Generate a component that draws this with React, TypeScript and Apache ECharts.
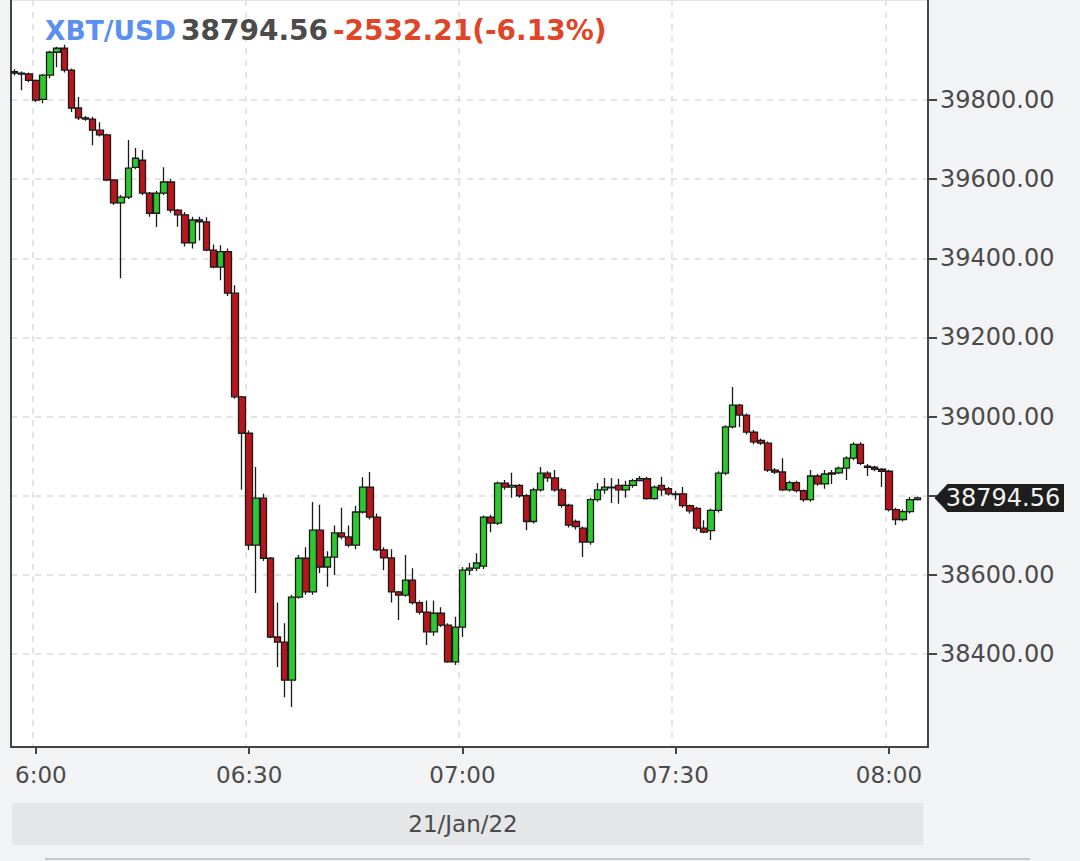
import React, { useEffect, useRef } from "react";
import * as echarts from "echarts";

const FONT = "DejaVu Sans";

// Minute candles, first one at 05:57 (index 0) ... last at 08:04, one empty slot at 08:05
const startMinute = 5 * 60 + 57;
const slotCount = 129;

// [open, close, low, high]
const ohlc: number[][] = [
  [39872, 39868, 39862, 39878],
  [39868, 39866, 39825, 39872],
  [39866, 39850, 39845, 39870],
  [39850, 39800, 39795, 39852],
  [39802, 39863, 39792, 39866],
  [39863, 39921, 39855, 39925],
  [39921, 39931, 39883, 39935],
  [39931, 39876, 39870, 39940],
  [39876, 39780, 39770, 39880],
  [39780, 39755, 39750, 39808],
  [39755, 39752, 39748, 39760],
  [39752, 39724, 39686, 39758],
  [39724, 39712, 39708, 39744],
  [39712, 39598, 39595, 39715],
  [39598, 39540, 39535, 39600],
  [39540, 39555, 39350, 39560],
  [39555, 39628, 39550, 39699],
  [39630, 39653, 39625, 39679],
  [39648, 39565, 39560, 39674],
  [39565, 39514, 39505, 39568],
  [39514, 39565, 39479, 39570],
  [39565, 39593, 39560, 39630],
  [39593, 39522, 39515, 39600],
  [39522, 39510, 39480, 39525],
  [39510, 39439, 39430, 39517],
  [39439, 39497, 39425, 39505],
  [39497, 39492, 39445, 39505],
  [39492, 39421, 39418, 39504],
  [39421, 39378, 39375, 39435],
  [39378, 39417, 39345, 39433],
  [39417, 39312, 39305, 39425],
  [39312, 39050, 39045, 39332],
  [39050, 38958, 38815, 39052],
  [38958, 38675, 38663, 38965],
  [38675, 38794, 38554, 38873],
  [38794, 38642, 38635, 38805],
  [38642, 38443, 38440, 38645],
  [38443, 38430, 38367, 38530],
  [38430, 38334, 38291, 38478],
  [38334, 38544, 38266, 38550],
  [38544, 38642, 38540, 38650],
  [38642, 38557, 38550, 38670],
  [38557, 38713, 38550, 38784],
  [38713, 38620, 38605, 38777],
  [38620, 38645, 38570, 38660],
  [38645, 38706, 38600, 38725],
  [38706, 38696, 38690, 38770],
  [38696, 38675, 38670, 38725],
  [38675, 38759, 38665, 38775],
  [38759, 38822, 38755, 38847],
  [38822, 38746, 38740, 38860],
  [38746, 38663, 38660, 38755],
  [38663, 38643, 38612, 38670],
  [38643, 38557, 38530, 38665],
  [38557, 38549, 38486, 38560],
  [38549, 38587, 38545, 38650],
  [38587, 38530, 38525, 38617],
  [38530, 38506, 38500, 38535],
  [38506, 38456, 38423, 38535],
  [38456, 38503, 38446, 38535],
  [38503, 38473, 38468, 38518],
  [38473, 38380, 38378, 38478],
  [38380, 38468, 38372, 38494],
  [38468, 38612, 38443, 38620],
  [38612, 38617, 38600, 38630],
  [38617, 38630, 38610, 38655],
  [38622, 38746, 38615, 38750],
  [38746, 38731, 38708, 38752],
  [38731, 38832, 38726, 38836],
  [38832, 38822, 38815, 38840],
  [38822, 38826, 38795, 38858],
  [38826, 38800, 38795, 38830],
  [38800, 38735, 38713, 38805],
  [38735, 38815, 38730, 38820],
  [38815, 38857, 38810, 38873],
  [38857, 38845, 38835, 38862],
  [38845, 38815, 38810, 38865],
  [38815, 38776, 38770, 38820],
  [38776, 38726, 38720, 38780],
  [38735, 38722, 38715, 38740],
  [38718, 38683, 38645, 38722],
  [38683, 38790, 38676, 38795],
  [38790, 38815, 38785, 38832],
  [38815, 38822, 38805, 38845],
  [38822, 38820, 38782, 38845],
  [38826, 38815, 38780, 38843],
  [38815, 38826, 38795, 38838],
  [38826, 38838, 38820, 38843],
  [38838, 38843, 38836, 38850],
  [38843, 38793, 38790, 38848],
  [38793, 38822, 38790, 38826],
  [38826, 38815, 38800, 38848],
  [38818, 38805, 38800, 38822],
  [38805, 38803, 38790, 38812],
  [38805, 38775, 38770, 38822],
  [38775, 38762, 38755, 38778],
  [38768, 38718, 38712, 38772],
  [38718, 38708, 38705, 38738],
  [38712, 38763, 38688, 38768],
  [38763, 38857, 38758, 38862],
  [38857, 38974, 38852, 38978],
  [38974, 39029, 38970, 39075],
  [39029, 39004, 38974, 39032],
  [39004, 38961, 38955, 39008],
  [38961, 38936, 38930, 38966],
  [38940, 38933, 38928, 38945],
  [38933, 38865, 38860, 38937],
  [38865, 38860, 38855, 38870],
  [38860, 38815, 38812, 38895],
  [38815, 38833, 38810, 38838],
  [38833, 38813, 38808, 38838],
  [38813, 38790, 38785, 38816],
  [38790, 38850, 38785, 38865],
  [38850, 38830, 38825, 38855],
  [38830, 38855, 38818, 38865],
  [38855, 38858, 38830, 38865],
  [38858, 38870, 38855, 38874],
  [38870, 38895, 38840, 38900],
  [38895, 38930, 38890, 38935],
  [38930, 38882, 38878, 38935],
  [38875, 38872, 38850, 38880],
  [38872, 38867, 38862, 38876],
  [38867, 38862, 38822, 38870],
  [38862, 38765, 38760, 38866],
  [38765, 38740, 38726, 38770],
  [38740, 38760, 38735, 38765],
  [38760, 38790, 38755, 38797],
  [38790, 38794.56, 38788, 38798],
];

const priceTicks = [38400, 38600, 38800, 39000, 39200, 39400, 39600, 39800];
// 38800 label is covered by the last-price tag in the original
const priceLabels = [38400, 38600, 39000, 39200, 39400, 39600, 39800];
const yMin = 38165;
const yMax = 40053;

const symbol = "XBT/USD";
const lastPrice = "38794.56";
const changeText = "-2532.21(-6.13%)";
const dateText = "21/Jan/22";

const pad = (n: number) => (n < 10 ? "0" + n : "" + n);
const categories: string[] = [];
for (let k = 0; k < slotCount; k++) {
  const m = startMinute + k;
  categories.push(pad(Math.floor(m / 60)) + ":" + pad(m % 60));
}

const isMajor = (_i: number, v: string) => v.endsWith(":00") || v.endsWith(":30");

export default function App() {
  const ref = useRef<HTMLDivElement>(null);

  useEffect(() => {
    document.body.style.margin = "0";
    document.body.style.background = "#f2f3f5";
    const chart = echarts.init(ref.current!, null, { renderer: "svg" });
    const option: any = {
      animation: false,
      backgroundColor: "#f2f3f5",
      title: {
        left: 40,
        top: 11,
        text: `{a|${symbol}} {b|${lastPrice}} {c|${changeText}}`,
        textStyle: {
          rich: {
            a: { color: "#5b8ff0", fontSize: 26.5, fontWeight: "bold", fontFamily: FONT },
            b: { color: "#4b4b4b", fontSize: 28, fontWeight: "bold", fontFamily: FONT },
            c: { color: "#df4529", fontSize: 28, fontWeight: "bold", fontFamily: FONT },
          },
        },
      },
      grid: {
        left: 11,
        right: 152,
        top: 0,
        bottom: 114,
        show: true,
        backgroundColor: "#ffffff",
        borderColor: "#c8c8c8",
        borderWidth: 1,
      },
      xAxis: {
        type: "category",
        data: categories,
        boundaryGap: true,
        axisLine: { show: true, lineStyle: { color: "#444", width: 2 } },
        axisTick: {
          show: true,
          alignWithLabel: true,
          interval: isMajor,
          length: 7,
          lineStyle: { color: "#444", width: 2 },
        },
        axisLabel: {
          interval: isMajor,
          margin: 16,
          fontSize: 23,
          fontFamily: FONT,
          color: "#4a4a4a",
          formatter: (v: string) => (v === "06:00" ? "{s|6:00}" : v),
          rich: {
            s: { fontSize: 23, fontFamily: FONT, color: "#4a4a4a", padding: [0, 0, 0, 10] },
          },
        },
        splitLine: {
          show: true,
          interval: isMajor,
          lineStyle: { color: "#dcdcdc", type: [6, 6], width: 1.5 },
        },
      },
      yAxis: [
        {
          type: "value",
          position: "right",
          min: yMin,
          max: yMax,
          scale: true,
          axisLine: { show: true, lineStyle: { color: "#444", width: 2 } },
          axisTick: {
            show: true,
            customValues: priceTicks,
            length: 9,
            lineStyle: { color: "#444", width: 2 },
          },
          axisLabel: {
            customValues: priceLabels,
            margin: 12,
            fontSize: 24,
            fontFamily: FONT,
            color: "#4a4a4a",
            formatter: (v: number) => v.toFixed(2),
          },
          splitLine: {
            show: true,
            lineStyle: { color: "#dcdcdc", type: [6, 6], width: 1.5 },
          },
        },
        {
          type: "value",
          position: "left",
          min: yMin,
          max: yMax,
          axisLine: { show: true, lineStyle: { color: "#444", width: 2 } },
          axisTick: { show: false },
          axisLabel: { show: false },
          splitLine: { show: false },
        },
      ],
      series: [
        {
          type: "candlestick",
          data: ohlc,
          barWidth: 7,
          itemStyle: {
            color: "#2dc82d",
            color0: "#b8161c",
            borderColor: "#1a1a1a",
            borderColor0: "#1a1a1a",
            borderWidth: 1.3,
          },
        },
      ],
    };
    chart.setOption(option);

    const lastClose = ohlc[ohlc.length - 1][1];
    const py = chart.convertToPixel({ yAxisIndex: 0 }, lastClose) as number;
    const axisX = chart.convertToPixel({ xAxisIndex: 0 }, categories[slotCount - 1]) as number;
    const rightX = axisX + 8;

    chart.setOption({
      graphic: [
        {
          type: "polygon",
          z: 100,
          shape: {
            points: [
              [rightX + 2, py],
              [rightX + 15, py - 14],
              [1064, py - 14],
              [1064, py + 14],
              [rightX + 15, py + 14],
            ],
          },
          style: { fill: "#1e1e1e" },
        },
        {
          type: "text",
          z: 101,
          x: 1003,
          y: py,
          style: {
            text: lastPrice,
            fill: "#f2f2f2",
            fontSize: 24,
            fontFamily: FONT,
            align: "center",
            verticalAlign: "middle",
          },
        },
        {
          type: "rect",
          z: -1,
          shape: { x: 12, y: 803, width: 911, height: 42 },
          style: { fill: "#e5e6e8" },
        },
        {
          type: "text",
          x: 463,
          y: 824,
          style: {
            text: dateText,
            fill: "#4a4a4a",
            fontSize: 23,
            fontFamily: FONT,
            align: "center",
            verticalAlign: "middle",
          },
        },
        {
          type: "line",
          shape: { x1: 45, y1: 859, x2: 1030, y2: 859 },
          style: { stroke: "#c6c6c6", lineWidth: 2 },
        },
      ],
    });

    return () => chart.dispose();
  }, []);

  return <div ref={ref} style={{ width: 1080, height: 861 }} />;
}
